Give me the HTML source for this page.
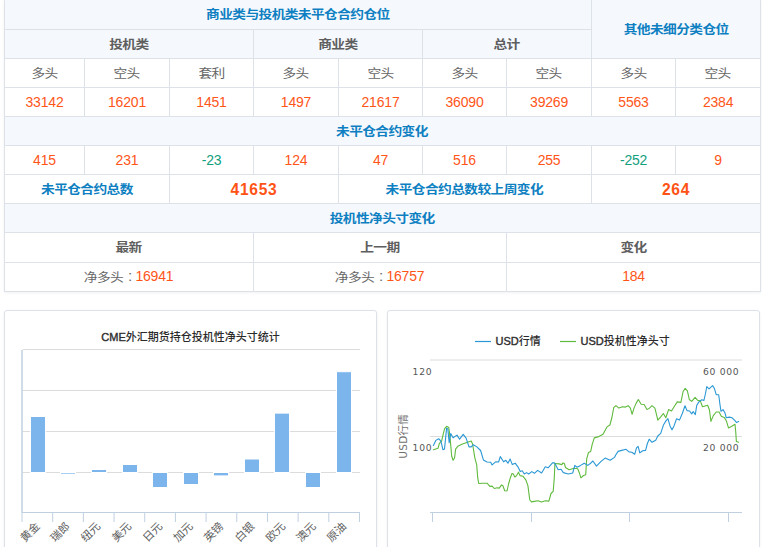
<!DOCTYPE html>
<html lang="zh-CN">
<head>
<meta charset="utf-8">
<title>CFTC持仓报告</title>
<style>
html,body{margin:0;padding:0;background:#fff;}
body{width:762px;height:547px;overflow:hidden;position:relative;
  font-family:"Liberation Sans","Noto Sans CJK SC",sans-serif;font-size:13.14px;color:#666;}
#tbl{position:absolute;left:4px;top:0;width:757px;height:292px;box-sizing:border-box;
  border-left:1px solid #dde2e8;box-shadow:0 1px 3px rgba(0,0,0,.06);}
table{border-collapse:separate;border-spacing:0;table-layout:fixed;width:756px;margin:0;}
td,th{box-sizing:border-box;height:29px;padding:0;text-align:center;vertical-align:middle;
  border-right:1px solid #dde2e8;border-bottom:1px solid #dde2e8;font-weight:normal;
  line-height:20px;white-space:nowrap;overflow:hidden;background:#fff;}
tr.r1 th{height:30px;}
tr.r1 th:first-child{padding-bottom:2px;}
th.h{background:#f5f9fe;color:#0e7fc1;font-weight:bold;}
th.s{background:#f5f9fe;color:#5e5e5e;font-weight:bold;}
th.w{color:#5e5e5e;font-weight:bold;}
td.k{color:#666;}
td.n,span.n{color:#ff5518;font-size:14px;letter-spacing:-.2px;}
span.c{font-family:"Noto Sans CJK JP","Noto Sans CJK SC",sans-serif;font-weight:300;}
.z{display:inline-block;letter-spacing:-.57px;padding-right:.57px;transform:translateY(1px) scale(1.045,.91);transform-origin:50% 84%;}
.y{position:relative;top:1px;}
td.g{color:#13a07e;font-size:14px;letter-spacing:-.2px;}
td.b{color:#0e7fc1;font-weight:bold;}
td.big{color:#ff5315;font-weight:bold;font-size:15.6px;letter-spacing:.7px;}
tr.r9 th{height:30px;padding-bottom:1px;}
tr.r10 td{padding-bottom:2px;}
.panel{position:absolute;top:310px;height:260px;box-sizing:border-box;border:1px solid #dde2e8;
  border-radius:3px;background:#fff;box-shadow:0 1px 3px rgba(0,0,0,.06);}
#p1{left:4px;width:373px;}
#p2{left:387px;width:373px;}
.panel svg{position:absolute;left:-1px;top:-1px;}
</style>
</head>
<body>
<div id="tbl">
<table>
<colgroup><col style="width:80px"><col style="width:85px"><col style="width:84px"><col style="width:85px"><col style="width:84px"><col style="width:84px"><col style="width:85px"><col style="width:84px"><col style="width:85px"></colgroup>
<tr class="r1"><th class="h" colspan="7"><span class="z">商业类与投机类未平仓合约仓位</span></th><th class="h" colspan="2" rowspan="2"><span class="z">其他未细分类仓位</span></th></tr>
<tr><th class="s" colspan="3"><span class="z">投机类</span></th><th class="s" colspan="2"><span class="z">商业类</span></th><th class="s" colspan="2"><span class="z">总计</span></th></tr>
<tr><td class="k"><span class="z">多头</span></td><td class="k"><span class="z">空头</span></td><td class="k"><span class="z">套利</span></td><td class="k"><span class="z">多头</span></td><td class="k"><span class="z">空头</span></td><td class="k"><span class="z">多头</span></td><td class="k"><span class="z">空头</span></td><td class="k"><span class="z">多头</span></td><td class="k"><span class="z">空头</span></td></tr>
<tr><td class="n">33142</td><td class="n">16201</td><td class="n">1451</td><td class="n">1497</td><td class="n">21617</td><td class="n">36090</td><td class="n">39269</td><td class="n">5563</td><td class="n">2384</td></tr>
<tr><th class="h" colspan="9"><span class="z">未平仓合约变化</span></th></tr>
<tr><td class="n">415</td><td class="n">231</td><td class="g">-23</td><td class="n">124</td><td class="n">47</td><td class="n">516</td><td class="n">255</td><td class="g">-252</td><td class="n">9</td></tr>
<tr><td class="b" colspan="2"><span class="z">未平仓合约总数</span></td><td class="big" colspan="2"><span class="y">41653</span></td><td class="b" colspan="3"><span class="z">未平仓合约总数较上周变化</span></td><td class="big" colspan="2"><span class="y">264</span></td></tr>
<tr><th class="h" colspan="9"><span class="z">投机性净头寸变化</span></th></tr>
<tr class="r9"><th class="w" colspan="3"><span class="z">最新</span></th><th class="w" colspan="3"><span class="z">上一期</span></th><th class="w" colspan="3"><span class="z">变化</span></th></tr>
<tr class="r10"><td class="k" colspan="3"><span class="z">净多头<span class="c" lang="ja">：</span></span><span class="n">16941</span></td><td class="k" colspan="3"><span class="z">净多头<span class="c" lang="ja">：</span></span><span class="n">16757</span></td><td class="n" colspan="3">184</td></tr>
</table>
</div>

<div class="panel" id="p1">
<svg width="373" height="238" viewBox="4 310 373 238">
<!--CHART1-->
<g stroke="#dcdcdc" stroke-width="1" fill="none">
<path d="M22.5 349.5H360.0"/>
<path d="M22.5 390.5H360.0"/>
<path d="M22.5 431.5H360.0"/>
<path d="M22.5 472.5H360.0"/>
</g>
<g fill="#7cb5ec" stroke="#fff" stroke-width="1">
<rect x="30.5" y="416.5" width="15" height="56"/>
<rect x="60.5" y="472.5" width="15" height="2" fill="#a6cdf2"/>
<rect x="91.5" y="469.5" width="15" height="3"/>
<rect x="122.5" y="464.5" width="15" height="8"/>
<rect x="152.5" y="472.5" width="15" height="15"/>
<rect x="183.5" y="472.5" width="15" height="12"/>
<rect x="213.5" y="472.5" width="15" height="3.4"/>
<rect x="244.5" y="459.0" width="15" height="13.5"/>
<rect x="274.5" y="413.1" width="15" height="59.4"/>
<rect x="305.5" y="472.5" width="15" height="15"/>
<rect x="336.5" y="371.7" width="15" height="100.8"/>
</g>
<g stroke="#c0d0e0" stroke-width="1" fill="none">
<path d="M22 350V512.5" stroke-width="1.5"/>
<path d="M22.0 512.5H360.0"/>
<path d="M22.00 512.0V522"/>
<path d="M52.68 512.0V522"/>
<path d="M83.36 512.0V522"/>
<path d="M114.04 512.0V522"/>
<path d="M144.72 512.0V522"/>
<path d="M175.40 512.0V522"/>
<path d="M206.08 512.0V522"/>
<path d="M236.76 512.0V522"/>
<path d="M267.44 512.0V522"/>
<path d="M298.12 512.0V522"/>
<path d="M328.80 512.0V522"/>
<path d="M359.48 512.0V522"/>
</g>
<text x="190.6" y="341" text-anchor="middle" font-size="11" font-weight="500" fill="#2a2a2a"><tspan font-weight="normal" stroke="#333" stroke-width="0.4">CME</tspan>外汇期货持仓投机性净头寸统计</text>
<g font-size="11" fill="#606060" text-anchor="end">
<text x="40.5" y="527" transform="rotate(-45 40.5 527)">黄金</text>
<text x="70.5" y="527" transform="rotate(-45 70.5 527)">瑞郎</text>
<text x="101.0" y="527" transform="rotate(-45 101.0 527)">纽元</text>
<text x="132.0" y="527" transform="rotate(-45 132.0 527)">美元</text>
<text x="163.0" y="527" transform="rotate(-45 163.0 527)">日元</text>
<text x="193.5" y="527" transform="rotate(-45 193.5 527)">加元</text>
<text x="224.0" y="527" transform="rotate(-45 224.0 527)">英镑</text>
<text x="255.0" y="527" transform="rotate(-45 255.0 527)">白银</text>
<text x="286.0" y="527" transform="rotate(-45 286.0 527)">欧元</text>
<text x="316.5" y="527" transform="rotate(-45 316.5 527)">澳元</text>
<text x="347.0" y="527" transform="rotate(-45 347.0 527)">原油</text>
</g>
<!--/CHART1-->
</svg>
</div>

<div class="panel" id="p2">
<svg width="374" height="238" viewBox="387 310 374 238">
<!--CHART2-->
<g stroke="#dcdcdc" stroke-width="1" fill="none"><path d="M430 360H742"/><path d="M430 436.5H742"/></g>
<g stroke="#c0d0e0" stroke-width="1" fill="none"><path d="M430 512.5H742"/>
<path d="M432.5 512V522"/>
<path d="M531.5 512V522"/>
<path d="M629.5 512V522"/>
<path d="M728.5 512V522"/>
</g>
<polyline fill="none" stroke="#5fba3d" stroke-width="1.1" stroke-linejoin="round" stroke-linecap="round" points="433.4,449.8 438.0,448.3 439.4,443.3 441.6,441.1 444.5,428.9 446.6,426.3 448.8,427.4 450.3,440.4 451.7,456.3 453.1,460.3 454.6,457.7 455.6,449.1 458.2,445.9 462.5,444.0 467.6,442.3 471.2,441.1 472.6,444.0 474.8,457.6 476.7,464.8 477.7,477.7 478.7,483.5 482.7,483.2 487.0,483.2 489.9,486.4 492.1,486.1 494.3,488.5 497.2,487.8 499.3,488.1 501.5,484.9 502.9,485.7 504.7,490.7 507.0,491.0 508.7,483.5 510.4,477.7 512.0,473.4 513.3,474.1 514.8,477.0 516.6,475.6 518.5,472.2 520.0,475.6 522.9,476.2 525.8,479.8 527.9,485.6 529.8,500.0 531.5,501.9 534.4,501.4 538.0,500.7 541.6,501.9 545.3,500.7 548.9,501.1 551.0,493.5 553.2,491.3 554.3,477.6 554.9,463.5 559.0,463.9 561.8,464.6 563.0,462.9 564.4,463.5 565.5,467.5 569.1,469.7 574.1,468.2 577.7,468.7 579.5,473.3 580.9,477.9 583.5,475.5 585.7,474.7 586.7,458.9 588.5,452.4 590.7,451.4 592.2,444.4 594.3,437.9 597.9,436.9 603.0,434.3 607.0,426.9 609.9,425.0 611.9,417.5 613.8,407.4 616.0,405.7 618.9,408.1 622.5,406.7 625.4,407.1 628.2,405.7 630.4,408.1 632.1,414.3 634.0,408.1 636.2,403.1 638.3,399.5 641.2,404.2 644.1,404.5 647.0,409.6 649.5,408.1 652.0,405.7 654.9,408.1 656.7,415.4 657.8,420.1 660.7,416.8 663.3,413.5 665.8,417.8 668.6,409.6 671.5,411.0 674.4,406.3 677.3,401.9 680.9,402.4 683.1,391.5 685.2,388.4 687.4,390.8 689.3,399.5 691.7,401.4 695.1,397.3 697.5,400.2 700.3,400.9 702.5,406.7 707.6,405.2 709.4,409.8 710.9,421.4 713.3,415.6 716.2,412.0 719.1,412.0 721.3,416.3 724.2,417.4 726.3,420.7 728.5,427.9 731.4,426.4 735.0,424.3 735.7,431.5 736.4,441.6 738.6,442.3"/>
<polyline fill="none" stroke="#2a98d4" stroke-width="1.1" stroke-linejoin="round" stroke-linecap="round" points="433.4,445.5 435.8,440.4 438.7,438.7 440.9,441.1 443.0,449.8 444.5,449.1 446.6,428.1 447.8,428.9 449.2,442.6 450.7,433.5 453.1,437.8 457.0,435.1 459.6,439.2 463.2,434.3 466.1,438.2 469.0,446.9 471.2,446.9 473.3,444.7 476.9,446.9 480.6,450.5 483.4,459.9 487.0,462.0 490.7,462.3 492.1,464.9 495.7,461.8 498.6,462.0 500.3,456.6 503.6,461.8 505.8,460.3 508.0,463.2 510.1,458.9 512.3,464.6 515.2,463.2 518.1,467.1 520.2,471.4 522.2,470.7 524.3,474.0 526.5,472.6 528.7,474.0 531.8,471.6 534.4,473.3 537.6,470.4 541.6,473.0 545.3,466.8 548.1,467.8 552.5,462.9 554.6,462.9 558.2,469.7 561.1,469.3 563.3,472.6 568.3,474.0 572.7,473.0 574.8,465.4 577.0,467.2 580.6,465.4 584.2,463.2 587.8,465.4 590.7,463.2 592.9,461.0 596.5,466.1 600.8,461.7 605.1,458.1 610.2,460.3 614.5,457.4 615.7,455.0 618.1,451.4 621.7,450.4 626.1,449.3 629.0,451.9 631.8,452.2 634.7,454.3 636.5,447.8 638.1,446.4 639.8,452.9 642.7,450.7 645.6,450.4 647.4,443.5 649.2,439.2 652.0,442.3 655.7,440.3 657.8,436.0 660.7,433.4 663.6,424.7 665.8,421.1 667.9,418.7 670.1,426.2 672.0,429.8 674.0,425.9 676.6,418.7 679.5,420.1 682.4,413.2 685.0,405.7 687.0,410.6 689.6,411.0 691.7,413.9 693.2,411.5 695.3,414.6 696.7,405.5 698.9,401.9 701.8,399.7 703.9,400.5 705.7,392.5 706.8,386.5 709.0,388.9 712.6,385.6 714.3,388.2 716.2,394.7 718.7,394.7 720.1,405.5 721.0,411.3 723.0,409.6 724.9,412.7 726.3,417.8 729.2,417.1 732.1,417.8 735.0,420.7 736.4,422.5 738.6,421.4"/>
<path d="M475 341.5H491" stroke="#2a98d4" stroke-width="1.2" fill="none"/>
<path d="M560 341.5H576" stroke="#5fba3d" stroke-width="1.2" fill="none"/>
<g font-size="11" font-weight="500" fill="#2a2a2a"><text x="495.5" y="345"><tspan font-weight="normal" stroke="#333" stroke-width="0.4">USD</tspan>行情</text><text x="580.5" y="345"><tspan font-weight="normal" stroke="#333" stroke-width="0.4">USD</tspan>投机性净头寸</text></g>
<g font-family="'DejaVu Sans',sans-serif" font-size="9.2" letter-spacing="0.72" fill="#555" text-anchor="end"><text x="432.3" y="375">120</text><text x="432.3" y="450.6">100</text><text x="739.4" y="375">60 000</text><text x="739.4" y="450.6">20 000</text></g>
<text x="407" y="436.3" letter-spacing="0.3" font-family="'DejaVu Sans','Noto Sans CJK SC',sans-serif" font-size="10.5" fill="#707070" text-anchor="middle" transform="rotate(-90 407 436.3)">USD行情</text>
<!--/CHART2-->
</svg>
</div>
</body>
</html>
